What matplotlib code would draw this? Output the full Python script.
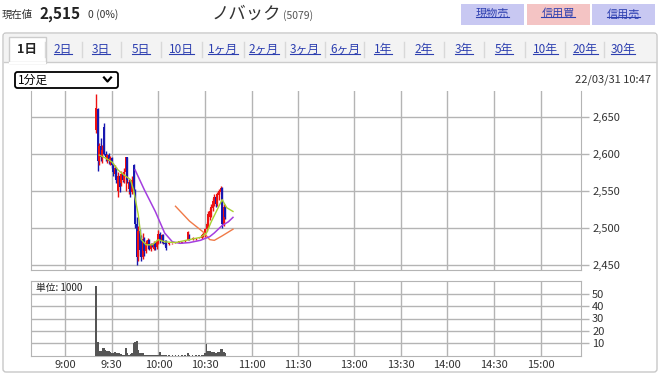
import matplotlib
matplotlib.use("Agg")
import matplotlib.pyplot as plt
from matplotlib.patches import Rectangle, FancyBboxPatch

plt.rcParams['font.family'] = ['Noto Sans CJK JP', 'DejaVu Sans']

W, H = 660, 375

# minutes after 9:00 for each 1-minute candle
minutes = [20, 21, 22, 23, 24, 25, 26, 27, 28, 29,
           30, 31, 32, 33, 34, 35, 36, 37, 38, 39,
           40, 41, 42, 43, 44, 45, 46, 47, 48, 49,
           50, 51, 52, 53, 54, 55, 56, 57, 58, 59,
           60, 61, 62, 63, 64, 65,
           67, 69, 71, 73, 75, 77,
           79, 80,
           82, 84, 86,
           88, 89, 90, 91, 92, 93, 94, 95, 96, 97, 98, 99, 100, 101, 102, 103]
opens = [2632, 2660, 2590, 2610, 2595, 2636, 2600, 2592, 2598, 2590,
         2594, 2585, 2572, 2580, 2550, 2570, 2560, 2572, 2563, 2575,
         2595, 2552, 2562, 2548, 2585, 2550, 2505, 2460, 2495, 2470,
         2460, 2485, 2468, 2478, 2484, 2472, 2478, 2472, 2480, 2474,
         2480, 2492, 2482, 2490, 2480, 2482,
         2478, 2479, 2480, 2481, 2480, 2482,
         2484, 2490,
         2485, 2485, 2487,
         2486, 2489, 2490, 2498, 2503, 2515, 2520, 2526, 2535, 2542, 2532, 2544, 2548, 2554, 2505, 2528]
highs = [2680, 2662, 2615, 2621, 2612, 2641, 2603, 2600, 2601, 2597,
         2596, 2588, 2585, 2582, 2575, 2573, 2576, 2575, 2580, 2596,
         2596, 2566, 2565, 2570, 2586, 2552, 2515, 2502, 2498, 2490,
         2493, 2487, 2484, 2486, 2485, 2480, 2480, 2482, 2481, 2485,
         2497, 2494, 2492, 2491, 2483, 2483,
         2479, 2480, 2481, 2482, 2481, 2483,
         2496, 2491,
         2487, 2486, 2488,
         2492, 2494, 2500, 2508, 2522, 2526, 2532, 2540, 2545, 2543, 2548, 2552, 2556, 2555, 2532, 2530]
lows = [2628, 2576, 2585, 2590, 2588, 2598, 2590, 2588, 2586, 2585,
        2580, 2570, 2568, 2560, 2542, 2548, 2556, 2562, 2560, 2550,
        2560, 2545, 2542, 2546, 2545, 2500, 2450, 2455, 2462, 2455,
        2458, 2462, 2466, 2472, 2470, 2468, 2474, 2470, 2470, 2472,
        2478, 2480, 2480, 2478, 2475, 2470,
        2477, 2478, 2479, 2480, 2479, 2481,
        2483, 2483,
        2484, 2484, 2486,
        2485, 2487, 2488, 2496, 2500, 2510, 2515, 2522, 2530, 2528, 2530, 2538, 2545, 2500, 2503, 2512]
closes = [2662, 2590, 2610, 2595, 2605, 2600, 2595, 2598, 2590, 2594,
          2585, 2575, 2580, 2565, 2570, 2555, 2572, 2565, 2575, 2595,
          2565, 2562, 2548, 2565, 2550, 2505, 2460, 2495, 2470, 2460,
          2485, 2468, 2480, 2484, 2472, 2478, 2476, 2480, 2474, 2482,
          2492, 2484, 2490, 2480, 2478, 2473,
          2478, 2480, 2480, 2481, 2480, 2482,
          2494, 2484,
          2486, 2485, 2487,
          2490, 2492, 2498, 2505, 2518, 2522, 2528, 2536, 2542, 2532, 2546, 2550, 2554, 2505, 2528, 2515]
volumes = [56, 11, 4, 4, 6, 6, 5, 4, 4, 3,
           2.5, 2, 3, 2, 2.5, 2, 1.5, 1, 1, 6,
           2, 1, 1.5, 2, 10.5, 11, 12, 5, 2, 2,
           2, 1, 1, 1, 0.5, 0.5, 1, 1, 1, 1,
           1, 3, 1, 1, 0.5, 1,
           0.5, 0.5, 0.5, 1, 0.5, 0.5,
           2, 1,
           0.5, 0.5, 0.5,
           1, 1, 2, 9.5, 4, 4, 3, 3, 3, 2.5, 3, 3, 5.5, 5.5, 3, 2]

# moving averages (minute, price)
ma_short_t = [22, 26, 30, 34, 38, 42, 44, 47, 49, 52, 56, 60, 64, 71, 80, 87, 91, 94, 98, 101, 104, 108]
ma_short_v = [2598, 2594, 2589, 2578, 2571, 2565, 2551, 2518, 2484, 2477, 2477, 2484, 2481, 2480,
              2484, 2487, 2493, 2508, 2525, 2538, 2527, 2522]
ma_mid_t = [45, 51, 58, 64, 69, 74, 80, 87, 93, 96, 101, 105, 108]
ma_mid_v = [2578, 2551, 2522, 2493, 2481, 2479, 2480, 2483, 2488, 2493, 2503, 2508, 2514]
ma_long_t = [71, 80, 89, 93, 96, 101, 108]
ma_long_v = [2529, 2509, 2494, 2484, 2483, 2489, 2498]

time_labels = ['9:00', '9:30', '10:00', '10:30', '11:00', '11:30',
               '13:00', '13:30', '14:00', '14:30', '15:00']
price_ticks = [2450, 2500, 2550, 2600, 2650]
vol_ticks = [10, 20, 30, 40, 50]

tabs = ['1日', '2日', '3日', '5日', '10日', '1ヶ月', '2ヶ月', '3ヶ月', '6ヶ月',
        '1年', '2年', '3年', '5年', '10年', '20年', '30年']
tab_x = [27, 63, 101, 141, 181, 223, 264, 305, 345, 383, 424, 464, 504, 545, 585, 623]


def session_x(label):
    # morning and afternoon sessions, with a short break drawn between
    h, m = map(int, label.split(':'))
    if h < 12:
        return (h - 9) * 60 + m
    return 186 + (h - 13) * 60 + m


def frac(x0, y0, x1, y1):
    return [x0 / W, 1 - y1 / H, (x1 - x0) / W, (y1 - y0) / H]


fig = plt.figure(figsize=(W / 100, H / 100), dpi=100)
r = fig.canvas.get_renderer()

# overlay in pixel coordinates for the page chrome
ov = fig.add_axes([0, 0, 1, 1], zorder=-1)
ov.set_xlim(0, W)
ov.set_ylim(H, 0)
ov.axis('off')
inv = ov.transData.inverted()

ov.add_patch(FancyBboxPatch((3, 33), 654, 339, boxstyle='round,pad=0,rounding_size=3',
                            fc='white', ec='#c8c8c8', lw=1))
ov.add_patch(Rectangle((4, 34), 652, 28, fc='#f3f3f3', ec='none'))
ov.plot([4, 656], [62, 62], color='#cccccc', lw=1)
ov.add_patch(Rectangle((9, 37), 37, 26, fc='white', ec='#cccccc', lw=1))
ov.plot([9.6, 45.4], [62.5, 62.5], color='white', lw=1.6)

link_blue = '#2d3fb0'
underlines = []
for i, (t, x) in enumerate(zip(tabs, tab_x)):
    if i == 0:
        ov.text(x, 49.5, t, ha='center', va='center', fontsize=9, color='#222', fontweight='bold')
    else:
        txt = ov.text(x, 49.5, t, ha='center', va='center', fontsize=8.5, color=link_blue)
        underlines.append(txt)
        sx = (tab_x[i - 1] + x) / 2
        ov.plot([sx, sx], [42, 57], color='#d8d8d8', lw=1)

# header
ov.text(2, 15, '現在値', ha='left', va='center', fontsize=7.5, color='#333')
ov.text(40, 14.5, '2,515', ha='left', va='center', fontsize=11, color='#222', fontweight='bold')
ov.text(88, 15, '0 (0%)', ha='left', va='center', fontsize=7.5, color='#333')
name = ov.text(212, 14, 'ノバック', ha='left', va='center', fontsize=12.5, color='#333')
nb = name.get_window_extent(r)
name_right = inv.transform((nb.x1, nb.y0))[0]
ov.text(name_right + 1, 16, '(5079)', ha='left', va='center', fontsize=7.5, color='#555')

buttons = ['現物売', '信用買', '信用売']
button_colors = ['#c8c8f2', '#f4c4c4', '#c8c8f2']
for i, (b, c) in enumerate(zip(buttons, button_colors)):
    x0 = 461 + i * 65.5
    ov.add_patch(Rectangle((x0, 4), 63, 21, fc=c, ec='none'))
    txt = ov.text(x0 + 31.5, 14, b, ha='center', va='center', fontsize=8, color=link_blue)
    underlines.append(txt)

# dropdown and timestamp
ov.add_patch(FancyBboxPatch((15, 72), 103, 16, boxstyle='round,pad=0,rounding_size=2.5',
                            fc='white', ec='black', lw=1.3))
ov.text(18, 80, '1分足', ha='left', va='center', fontsize=8.5, color='black')
ov.plot([104, 107.5, 111], [77.5, 81.5, 77.5], color='black', lw=1.6)
ov.text(651, 80, '22/03/31 10:47', ha='right', va='center', fontsize=8, color='#333')

grid_c = '#b4b4b4'
up_c = '#ee1111'
down_c = '#1818b0'
xlim = (-22, 332)
xt = [session_x(t) for t in time_labels]

# price panel
ax = fig.add_axes(frac(31, 91, 581, 270))
for m, o, h, l, c in zip(minutes, opens, highs, lows, closes):
    col = up_c if c >= o else down_c
    ax.vlines(m, l, h, color=col, lw=1.0, zorder=3)
    ax.bar(m, max(abs(c - o), 0.8), bottom=min(o, c), width=1.25, color=col, lw=0, zorder=3)
ax.plot(ma_long_t, ma_long_v, color='#f07a48', lw=1.0, zorder=4)
ax.plot(ma_mid_t, ma_mid_v, color='#a43ee0', lw=1.1, zorder=4)
ax.plot(ma_short_t, ma_short_v, color='#a8d030', lw=1.0, zorder=4)
ax.set_xlim(*xlim)
ax.set_ylim(2443, 2684.5)
ax.set_xticks(xt)
ax.set_xticklabels([])
ax.tick_params(axis='x', length=0)
ax.yaxis.tick_right()
ax.set_yticks(price_ticks)
ax.set_yticklabels([f'{v:,}' for v in price_ticks])
ax.tick_params(axis='y', length=6, color=grid_c, width=1, labelsize=8, labelcolor='#333', pad=2)
ax.grid(True, color=grid_c, lw=1)
ax.set_axisbelow(True)
for s in ax.spines.values():
    s.set_color(grid_c)
ax.spines['top'].set_visible(False)

# volume panel
axv = fig.add_axes(frac(31, 281, 581, 356))
axv.bar(minutes, volumes, width=1.1, color='#555555', lw=0, zorder=3)
axv.set_xlim(*xlim)
axv.set_ylim(-0.2, 60.2)
axv.set_xticks(xt)
axv.set_xticklabels(time_labels)
axv.tick_params(axis='x', length=0, labelsize=8, labelcolor='#333', pad=3)
axv.yaxis.tick_right()
axv.set_yticks(vol_ticks)
axv.tick_params(axis='y', length=6, color=grid_c, width=1, labelsize=8, labelcolor='#333', pad=2)
axv.grid(True, color=grid_c, lw=1)
axv.set_axisbelow(True)
for s in axv.spines.values():
    s.set_color(grid_c)
axv.text(0.01, 0.9, '単位: 1000', transform=axv.transAxes, ha='left', va='center',
         fontsize=7, color='#222')

# underline link texts
for txt in underlines:
    bb = txt.get_window_extent(r)
    (xa, ya), (xb, yb) = inv.transform([(bb.x0, bb.y0), (bb.x1, bb.y0)])
    ov.plot([xa, xb], [ya - 2.5, yb - 2.5], color=link_blue, lw=0.8)

fig.savefig('out.png', dpi=100)
